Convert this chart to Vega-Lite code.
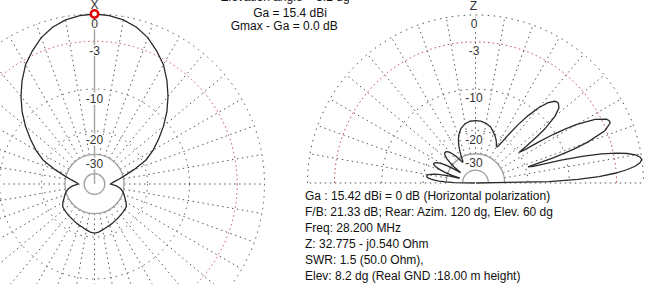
{
  "$schema": "https://vega.github.io/schema/vega-lite/v6.json",
  "width": 648,
  "height": 284,
  "autosize": {"type": "none"},
  "padding": 0,
  "background": "white",
  "config": {"view": {"stroke": null}, "text": {"font": "Liberation Sans", "fontSize": 12}},
  "resolve": {"scale": {"x": "independent", "y": "independent", "size": "independent"}},
  "layer": [
    {
      "layer": [
        {
          "data": {"values": [{"a":0},{"a":10},{"a":20},{"a":30},{"a":40},{"a":50},{"a":60},{"a":70},{"a":80},{"a":90},{"a":100},{"a":110},{"a":120},{"a":130},{"a":140},{"a":150},{"a":160},{"a":170},{"a":180},{"a":190},{"a":200},{"a":210},{"a":220},{"a":230},{"a":240},{"a":250},{"a":260},{"a":270},{"a":280},{"a":290},{"a":300},{"a":310},{"a":320},{"a":330},{"a":340},{"a":350}]},
          "transform": [
            {"calculate": "pow(0.89,15)*sin(datum.a*PI/180)", "as": "x"},
            {"calculate": "pow(0.89,15)*cos(datum.a*PI/180)", "as": "y"},
            {"calculate": "sin(datum.a*PI/180)", "as": "x2"},
            {"calculate": "cos(datum.a*PI/180)", "as": "y2"}
          ],
          "mark": {"type": "rule", "color": "#555555", "strokeWidth": 1, "strokeDash": [1.5, 3.5]},
          "encoding": {
            "x": {"field": "x", "type": "quantitative", "scale": {"domain": [-0.5559, 3.2559], "nice": false, "zero": false}, "axis": null},
            "y": {"field": "y", "type": "quantitative", "scale": {"domain": [-0.5882, 1.0824], "nice": false, "zero": false}, "axis": null},
            "x2": {"field": "x2"},
            "y2": {"field": "y2"}
          }
        },
        {
          "data": {"values": [{"dB": 0}, {"dB": -10}, {"dB": -20}]},
          "transform": [{"calculate": "pow(0.89,-datum.dB/2)", "as": "r"}],
          "mark": {"type": "point", "shape": "circle", "filled": false, "stroke": "#555555", "strokeWidth": 1, "strokeDash": [1.5, 4.5], "opacity": 1},
          "encoding": {
            "x": {"datum": 0, "type": "quantitative", "scale": {"domain": [-0.5559, 3.2559], "nice": false, "zero": false}, "axis": null},
            "y": {"datum": 0, "type": "quantitative", "scale": {"domain": [-0.5882, 1.0824], "nice": false, "zero": false}, "axis": null},
            "size": {"field": "r", "type": "quantitative", "scale": {"type": "pow", "exponent": 2, "domain": [0, 1], "range": [0, 115600]}, "legend": null}
          }
        },
        {
          "data": {"values": [{"dB": -3}]},
          "transform": [{"calculate": "pow(0.89,-datum.dB/2)", "as": "r"}],
          "mark": {"type": "point", "shape": "circle", "filled": false, "stroke": "#c85050", "strokeWidth": 1, "strokeDash": [1.5, 3], "opacity": 1},
          "encoding": {
            "x": {"datum": 0, "type": "quantitative", "axis": null},
            "y": {"datum": 0, "type": "quantitative", "axis": null},
            "size": {"field": "r", "type": "quantitative", "scale": {"type": "pow", "exponent": 2, "domain": [0, 1], "range": [0, 115600]}, "legend": null}
          }
        },
        {
          "data": {"values": [{"dB": -30}, {"dB": -48}]},
          "transform": [{"calculate": "pow(0.89,-datum.dB/2)", "as": "r"}],
          "mark": {"type": "point", "shape": "circle", "filled": false, "stroke": "#a0a0a0", "strokeWidth": 1.3, "opacity": 1},
          "encoding": {
            "x": {"datum": 0, "type": "quantitative", "axis": null},
            "y": {"datum": 0, "type": "quantitative", "axis": null},
            "size": {"field": "r", "type": "quantitative", "scale": {"type": "pow", "exponent": 2, "domain": [0, 1], "range": [0, 115600]}, "legend": null}
          }
        },
        {
          "data": {"values": [{}]},
          "mark": {"type": "rule", "color": "#a8a8a8", "strokeWidth": 1.5},
          "encoding": {
            "x": {"datum": 0, "type": "quantitative", "axis": null},
            "y": {"datum": 0, "type": "quantitative", "axis": null},
            "y2": {"datum": 1}
          }
        },
        {
          "data": {"values": [
            {"a":0,"dB":0},{"a":5,"dB":-0.1},{"a":10,"dB":-0.35},{"a":15,"dB":-0.8},{"a":20,"dB":-1.5},{"a":25,"dB":-2.5},{"a":30,"dB":-3.6},{"a":35,"dB":-5.1},{"a":40,"dB":-6.8},{"a":45,"dB":-8.7},{"a":50,"dB":-10.9},{"a":55,"dB":-13.3},{"a":60,"dB":-15.8},{"a":65,"dB":-18.8},{"a":70,"dB":-24.0},{"a":75,"dB":-29.5},{"a":80,"dB":-34},{"a":85,"dB":-38},{"a":90,"dB":-40.5},{"a":95,"dB":-35},{"a":100,"dB":-32},{"a":105,"dB":-30.2},{"a":110,"dB":-28.9},{"a":115,"dB":-27.8},{"a":120,"dB":-26.4},{"a":125,"dB":-25.3},{"a":130,"dB":-25.0},{"a":135,"dB":-24.8},{"a":140,"dB":-24.6},{"a":145,"dB":-24.3},{"a":150,"dB":-24.0},{"a":155,"dB":-23.6},{"a":160,"dB":-23.2},{"a":165,"dB":-22.8},{"a":170,"dB":-22.2},{"a":175,"dB":-21.6},{"a":180,"dB":-21.33},
            {"a":185,"dB":-21.6},{"a":190,"dB":-22.2},{"a":195,"dB":-22.8},{"a":200,"dB":-23.2},{"a":205,"dB":-23.6},{"a":210,"dB":-24.0},{"a":215,"dB":-24.3},{"a":220,"dB":-24.6},{"a":225,"dB":-24.8},{"a":230,"dB":-25.0},{"a":235,"dB":-25.3},{"a":240,"dB":-26.4},{"a":245,"dB":-27.8},{"a":250,"dB":-28.9},{"a":255,"dB":-30.2},{"a":260,"dB":-32},{"a":265,"dB":-35},{"a":270,"dB":-40.5},{"a":275,"dB":-38},{"a":280,"dB":-34},{"a":285,"dB":-29.5},{"a":290,"dB":-24.0},{"a":295,"dB":-18.8},{"a":300,"dB":-15.8},{"a":305,"dB":-13.3},{"a":310,"dB":-10.9},{"a":315,"dB":-8.7},{"a":320,"dB":-6.8},{"a":325,"dB":-5.1},{"a":330,"dB":-3.6},{"a":335,"dB":-2.5},{"a":340,"dB":-1.5},{"a":345,"dB":-0.8},{"a":350,"dB":-0.35},{"a":355,"dB":-0.1},{"a":360,"dB":0}
          ]},
          "transform": [
            {"calculate": "pow(0.89,-datum.dB/2)", "as": "r"},
            {"calculate": "datum.r*sin(datum.a*PI/180)", "as": "x"},
            {"calculate": "datum.r*cos(datum.a*PI/180)", "as": "y"}
          ],
          "mark": {"type": "line", "color": "#2a2a2a", "strokeWidth": 1.3},
          "encoding": {
            "x": {"field": "x", "type": "quantitative", "axis": null},
            "y": {"field": "y", "type": "quantitative", "axis": null},
            "order": {"field": "a", "type": "quantitative"}
          }
        },
        {
          "data": {"values": [{"dB":0,"t":"0"},{"dB":-3,"t":"-3"},{"dB":-10,"t":"-10"},{"dB":-20,"t":"-20"},{"dB":-30,"t":"-30"}]},
          "transform": [{"calculate": "pow(0.89,-datum.dB/2)", "as": "r"}],
          "mark": {"type": "text", "align": "center", "baseline": "middle", "dy": 9.5, "stroke": "white", "strokeWidth": 3, "fill": "white"},
          "encoding": {
            "x": {"datum": 0, "type": "quantitative", "axis": null},
            "y": {"field": "r", "type": "quantitative", "axis": null},
            "text": {"field": "t"}
          }
        },
        {
          "data": {"values": [{"dB":0,"t":"0"},{"dB":-3,"t":"-3"},{"dB":-10,"t":"-10"},{"dB":-20,"t":"-20"},{"dB":-30,"t":"-30"}]},
          "transform": [{"calculate": "pow(0.89,-datum.dB/2)", "as": "r"}],
          "mark": {"type": "text", "align": "center", "baseline": "middle", "dy": 9.5, "color": "#333333"},
          "encoding": {
            "x": {"datum": 0, "type": "quantitative", "axis": null},
            "y": {"field": "r", "type": "quantitative", "axis": null},
            "text": {"field": "t"}
          }
        },
        {
          "data": {"values": [{"t": "X"}]},
          "mark": {"type": "text", "align": "center", "baseline": "middle", "dy": -9, "color": "#333333"},
          "encoding": {
            "x": {"datum": 0, "type": "quantitative", "axis": null},
            "y": {"datum": 1, "type": "quantitative", "axis": null},
            "text": {"field": "t"}
          }
        },
        {
          "data": {"values": [{"a": 0, "dB": 0}]},
          "transform": [
            {"calculate": "pow(0.89,-datum.dB/2)", "as": "r"},
            {"calculate": "datum.r*sin(datum.a*PI/180)", "as": "x"},
            {"calculate": "datum.r*cos(datum.a*PI/180)", "as": "y"}
          ],
          "mark": {"type": "point", "shape": "circle", "filled": true, "fill": "white", "stroke": "#e00000", "strokeWidth": 2.5, "size": 55, "opacity": 1},
          "encoding": {
            "x": {"field": "x", "type": "quantitative", "axis": null},
            "y": {"field": "y", "type": "quantitative", "axis": null}
          }
        },
        {
          "data": {"values": [{"t": "Elevation angle = 8.2 dg"}]},
          "mark": {"type": "text", "align": "center", "baseline": "middle", "color": "#111111"},
          "encoding": {
            "x": {"datum": 1.1206, "type": "quantitative", "axis": null},
            "y": {"datum": 1.1, "type": "quantitative", "axis": null},
            "text": {"field": "t"}
          }
        },
        {
          "data": {"values": [{"t": "Ga = 15.4 dBi"}]},
          "mark": {"type": "text", "align": "center", "baseline": "middle", "color": "#111111"},
          "encoding": {
            "x": {"datum": 1.15, "type": "quantitative", "axis": null},
            "y": {"datum": 1.0059, "type": "quantitative", "axis": null},
            "text": {"field": "t"}
          }
        },
        {
          "data": {"values": [{"t": "Gmax - Ga = 0.0 dB"}]},
          "mark": {"type": "text", "align": "center", "baseline": "middle", "color": "#111111"},
          "encoding": {
            "x": {"datum": 1.1159, "type": "quantitative", "axis": null},
            "y": {"datum": 0.9294, "type": "quantitative", "axis": null},
            "text": {"field": "t"}
          }
        }
      ]
    },
    {
      "layer": [
        {
          "data": {"values": [{"e":0},{"e":10},{"e":20},{"e":30},{"e":40},{"e":50},{"e":60},{"e":70},{"e":80},{"e":90},{"e":100},{"e":110},{"e":120},{"e":130},{"e":140},{"e":150},{"e":160},{"e":170},{"e":180}]},
          "transform": [
            {"calculate": "pow(0.89,15)*cos(datum.e*PI/180)", "as": "x"},
            {"calculate": "pow(0.89,15)*sin(datum.e*PI/180)", "as": "y"},
            {"calculate": "cos(datum.e*PI/180)", "as": "x2"},
            {"calculate": "sin(datum.e*PI/180)", "as": "y2"}
          ],
          "mark": {"type": "rule", "color": "#555555", "strokeWidth": 1, "strokeDash": [1.5, 3.5]},
          "encoding": {
            "x": {"field": "x", "type": "quantitative", "scale": {"domain": [-2.8304, 1.0268], "nice": false, "zero": false}, "axis": null},
            "y": {"field": "y", "type": "quantitative", "scale": {"domain": [-0.6012, 1.0893], "nice": false, "zero": false}, "axis": null},
            "x2": {"field": "x2"},
            "y2": {"field": "y2"}
          }
        },
        {
          "data": {"values": [{"dB": 0}, {"dB": -10}, {"dB": -20}]},
          "transform": [{"calculate": "pow(0.89,-datum.dB/2)", "as": "r"}],
          "mark": {"type": "point", "shape": "M-1,0A1,1,0,0,1,1,0", "filled": false, "stroke": "#555555", "strokeWidth": 1, "strokeDash": [1.5, 4.5], "opacity": 1},
          "encoding": {
            "x": {"datum": 0, "type": "quantitative", "axis": null},
            "y": {"datum": 0, "type": "quantitative", "axis": null},
            "size": {"field": "r", "type": "quantitative", "scale": {"type": "pow", "exponent": 2, "domain": [0, 1], "range": [0, 112896]}, "legend": null}
          }
        },
        {
          "data": {"values": [{"dB": -3}]},
          "transform": [{"calculate": "pow(0.89,-datum.dB/2)", "as": "r"}],
          "mark": {"type": "point", "shape": "M-1,0A1,1,0,0,1,1,0", "filled": false, "stroke": "#c85050", "strokeWidth": 1, "strokeDash": [1.5, 3], "opacity": 1},
          "encoding": {
            "x": {"datum": 0, "type": "quantitative", "axis": null},
            "y": {"datum": 0, "type": "quantitative", "axis": null},
            "size": {"field": "r", "type": "quantitative", "scale": {"type": "pow", "exponent": 2, "domain": [0, 1], "range": [0, 112896]}, "legend": null}
          }
        },
        {
          "data": {"values": [{"dB": -30}, {"dB": -44}]},
          "transform": [{"calculate": "pow(0.89,-datum.dB/2)", "as": "r"}],
          "mark": {"type": "point", "shape": "M-1,0A1,1,0,0,1,1,0", "filled": false, "stroke": "#a0a0a0", "strokeWidth": 1.3, "opacity": 1},
          "encoding": {
            "x": {"datum": 0, "type": "quantitative", "axis": null},
            "y": {"datum": 0, "type": "quantitative", "axis": null},
            "size": {"field": "r", "type": "quantitative", "scale": {"type": "pow", "exponent": 2, "domain": [0, 1], "range": [0, 112896]}, "legend": null}
          }
        },
        {
          "data": {"values": [
            {"e":0,"dB":-99},{"e":1,"dB":-14.2},{"e":2,"dB":-8.48},{"e":3,"dB":-5.26},{"e":4,"dB":-3.16},{"e":5,"dB":-1.73},{"e":6,"dB":-0.79},{"e":7,"dB":-0.23},{"e":8,"dB":-0.01},{"e":9,"dB":-0.15},{"e":10,"dB":-0.6},{"e":11,"dB":-1.43},{"e":12,"dB":-2.68},{"e":13,"dB":-4.47},{"e":14,"dB":-7.04},{"e":15,"dB":-10.97},{"e":16,"dB":-17.6},{"e":17,"dB":-19.2},{"e":18,"dB":-12.24},{"e":19,"dB":-8.31},{"e":20,"dB":-5.86},{"e":22,"dB":-3.19},{"e":24,"dB":-2.24},{"e":25,"dB":-2.22},{"e":26,"dB":-2.45},{"e":28,"dB":-3.7},{"e":30,"dB":-6.19},{"e":31,"dB":-8.06},{"e":32,"dB":-10.44},{"e":33,"dB":-13.6},{"e":34,"dB":-17.75},{"e":35,"dB":-19.76},{"e":36,"dB":-16.72},{"e":37,"dB":-13.44},{"e":38,"dB":-11.09},{"e":40,"dB":-8.29},{"e":42,"dB":-6.91},{"e":44,"dB":-6.49},{"e":45,"dB":-6.52},{"e":46,"dB":-6.71},{"e":48,"dB":-7.63},{"e":50,"dB":-9.21},{"e":52,"dB":-11.59},{"e":54,"dB":-14.73},{"e":56,"dB":-18.74},{"e":57,"dB":-20.9},{"e":58,"dB":-22.68},{"e":59,"dB":-23.7},{"e":60,"dB":-23.8},{"e":61,"dB":-23.4},{"e":62,"dB":-22.8},{"e":64,"dB":-21.76},{"e":66,"dB":-21.0},{"e":68,"dB":-20.33},{"e":70,"dB":-19.72},{"e":72,"dB":-19.07},{"e":75,"dB":-18.25},{"e":80,"dB":-17.5},{"e":85,"dB":-17.1},{"e":90,"dB":-17.0},
            {"e":95,"dB":-17.11},{"e":100,"dB":-17.6},{"e":105,"dB":-18.75},{"e":108,"dB":-19.97},{"e":110,"dB":-21.02},{"e":112,"dB":-22.43},{"e":114,"dB":-24.21},{"e":116,"dB":-26.56},{"e":118,"dB":-29.39},{"e":119,"dB":-30.88},{"e":120,"dB":-32.3},{"e":121,"dB":-33.1},{"e":122,"dB":-32.98},{"e":123,"dB":-32.05},{"e":124,"dB":-30.74},{"e":126,"dB":-28.13},{"e":128,"dB":-26.04},{"e":130,"dB":-24.61},{"e":132,"dB":-23.68},{"e":134,"dB":-23.31},{"e":135,"dB":-23.32},{"e":136,"dB":-23.44},{"e":138,"dB":-24.26},{"e":140,"dB":-25.94},{"e":142,"dB":-29.09},{"e":143,"dB":-31.59},{"e":144,"dB":-35.02},{"e":145,"dB":-38.21},{"e":146,"dB":-36.35},{"e":147,"dB":-32.44},{"e":148,"dB":-29.34},{"e":149,"dB":-27.11},{"e":150,"dB":-25.44},{"e":152,"dB":-23.3},{"e":154,"dB":-22.3},{"e":155,"dB":-22.22},{"e":156,"dB":-22.34},{"e":158,"dB":-23.54},{"e":160,"dB":-26.41},{"e":161,"dB":-28.91},{"e":162,"dB":-32.89},{"e":163,"dB":-39.88},{"e":164,"dB":-38.41},{"e":165,"dB":-31.79},{"e":166,"dB":-27.94},{"e":167,"dB":-25.42},{"e":168,"dB":-23.68},{"e":169,"dB":-22.41},{"e":170,"dB":-21.6},{"e":171,"dB":-21.15},{"e":172,"dB":-21.06},{"e":173,"dB":-21.23},{"e":174,"dB":-21.79},{"e":175,"dB":-22.73},{"e":176,"dB":-24.16},{"e":177,"dB":-26.26},{"e":178,"dB":-29.48},{"e":179,"dB":-35.2},{"e":180,"dB":-99}
          ]},
          "transform": [
            {"calculate": "pow(0.89,-datum.dB/2)", "as": "r"},
            {"calculate": "datum.r*cos(datum.e*PI/180)", "as": "x"},
            {"calculate": "datum.r*sin(datum.e*PI/180)", "as": "y"}
          ],
          "mark": {"type": "line", "color": "#2a2a2a", "strokeWidth": 1.3},
          "encoding": {
            "x": {"field": "x", "type": "quantitative", "axis": null},
            "y": {"field": "y", "type": "quantitative", "axis": null},
            "order": {"field": "e", "type": "quantitative"}
          }
        },
        {
          "data": {"values": [{"dB":0,"t":"0"},{"dB":-3,"t":"-3"},{"dB":-10,"t":"-10"},{"dB":-20,"t":"-20"},{"dB":-30,"t":"-30"}]},
          "transform": [{"calculate": "pow(0.89,-datum.dB/2)", "as": "r"}],
          "mark": {"type": "text", "align": "center", "baseline": "middle", "dy": 9.3, "dx": -1.5, "stroke": "white", "strokeWidth": 3, "fill": "white"},
          "encoding": {
            "x": {"datum": 0, "type": "quantitative", "axis": null},
            "y": {"field": "r", "type": "quantitative", "axis": null},
            "text": {"field": "t"}
          }
        },
        {
          "data": {"values": [{"dB":0,"t":"0"},{"dB":-3,"t":"-3"},{"dB":-10,"t":"-10"},{"dB":-20,"t":"-20"},{"dB":-30,"t":"-30"}]},
          "transform": [{"calculate": "pow(0.89,-datum.dB/2)", "as": "r"}],
          "mark": {"type": "text", "align": "center", "baseline": "middle", "dy": 9.3, "dx": -1.5, "color": "#333333"},
          "encoding": {
            "x": {"datum": 0, "type": "quantitative", "axis": null},
            "y": {"field": "r", "type": "quantitative", "axis": null},
            "text": {"field": "t"}
          }
        },
        {
          "data": {"values": [{"t": "Z"}]},
          "mark": {"type": "text", "align": "center", "baseline": "middle", "dy": -9.5, "dx": -2, "color": "#333333"},
          "encoding": {
            "x": {"datum": 0, "type": "quantitative", "axis": null},
            "y": {"datum": 1, "type": "quantitative", "axis": null},
            "text": {"field": "t"}
          }
        },
        {
          "data": {"values": [{}]},
          "mark": {"type": "text", "align": "left", "baseline": "top", "lineHeight": 16, "color": "#111111",
            "text": ["Ga : 15.42 dBi = 0 dB  (Horizontal polarization)", "F/B: 21.33 dB; Rear: Azim. 120 dg,  Elev. 60 dg", "Freq: 28.200 MHz", "Z: 32.775 - j0.540 Ohm", "SWR: 1.5 (50.0 Ohm),", "Elev: 8.2 dg (Real GND  :18.00 m height)"]},
          "encoding": {
            "x": {"datum": -1.0149, "type": "quantitative", "axis": null},
            "y": {"datum": -0.0452, "type": "quantitative", "axis": null}
          }
        }
      ]
    }
  ]
}
